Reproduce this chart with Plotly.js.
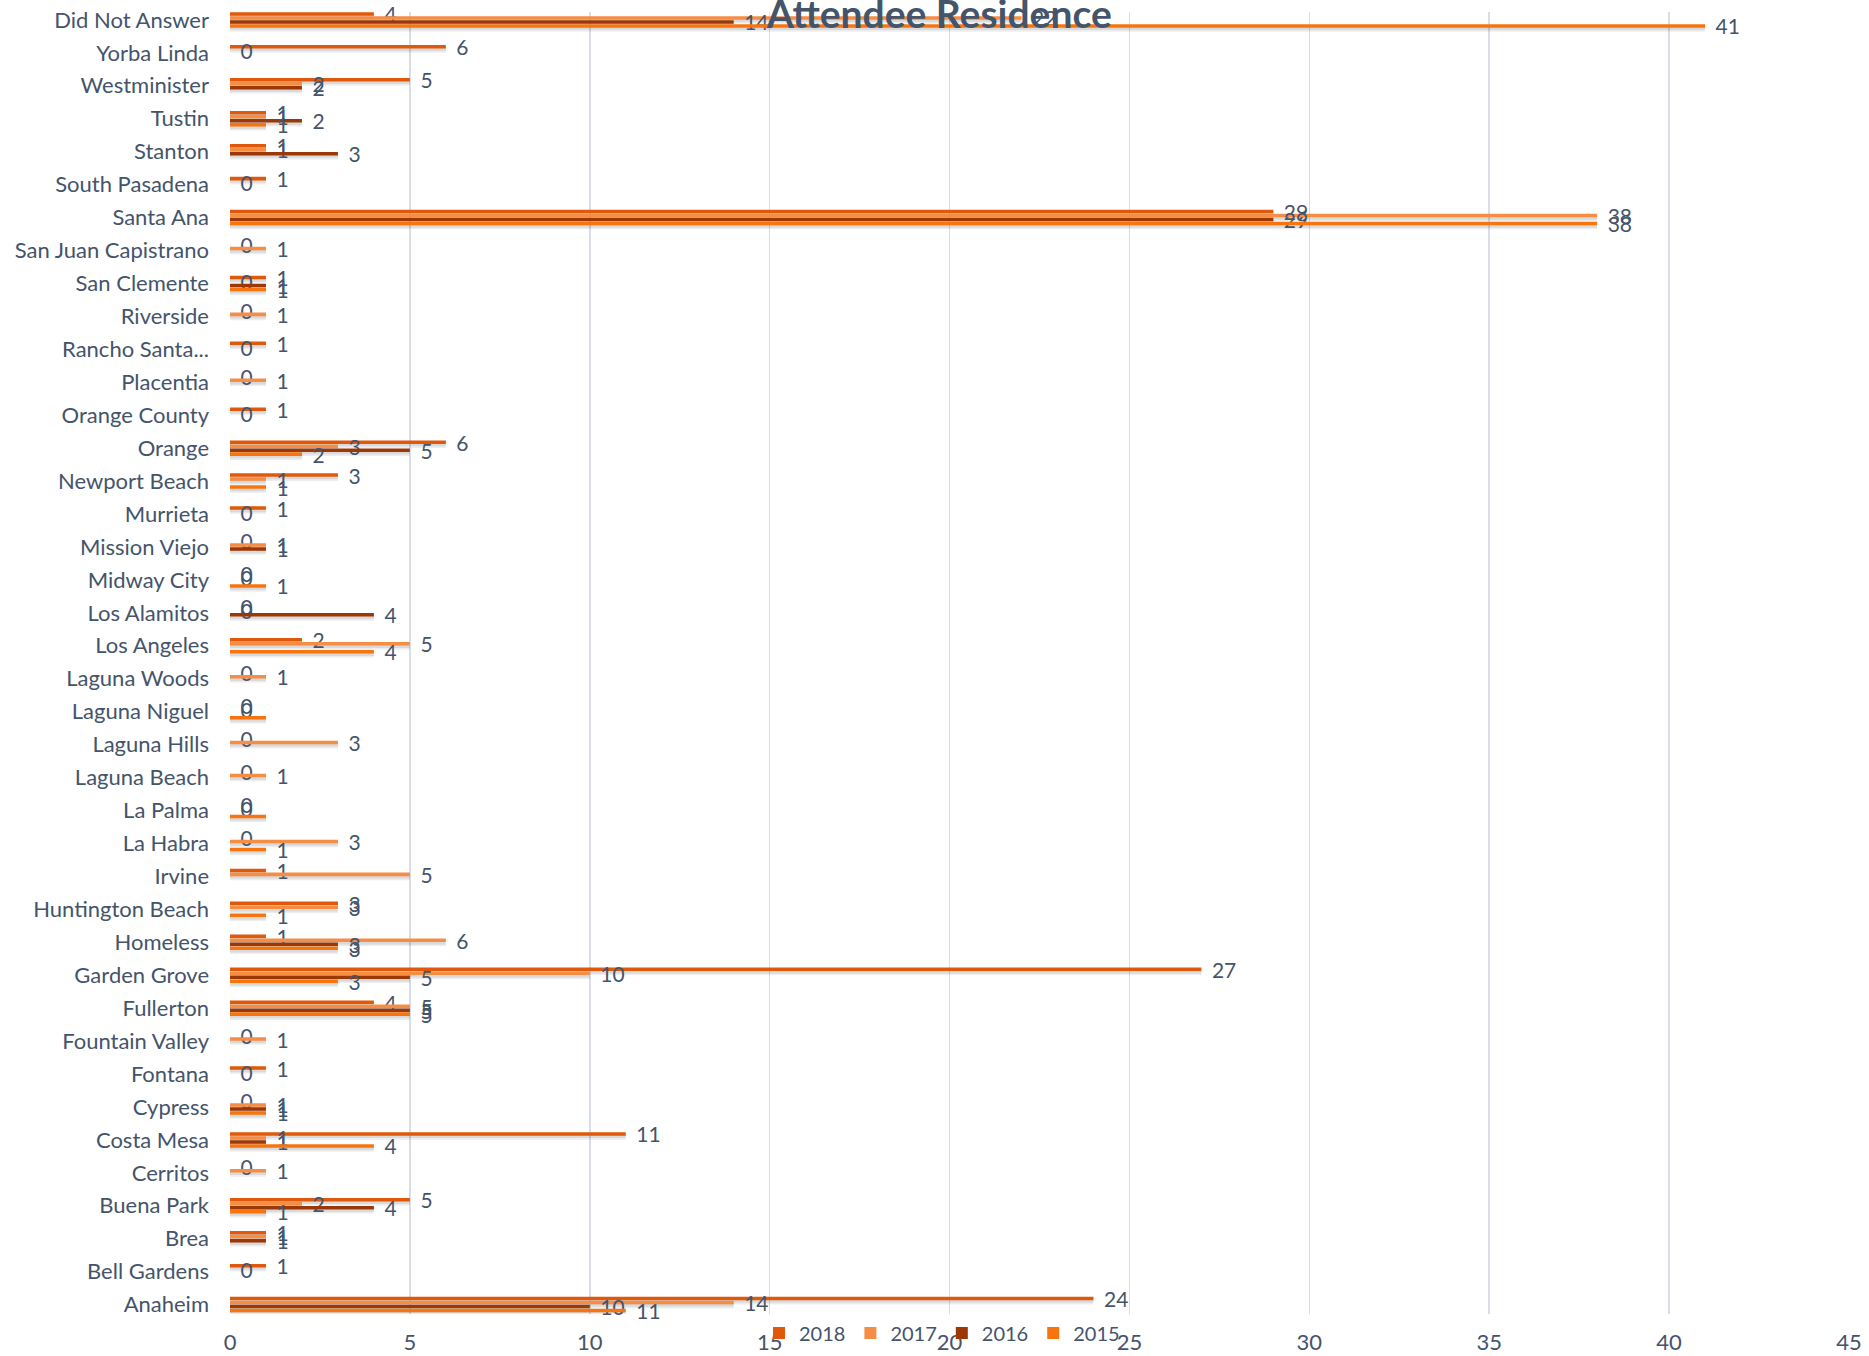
<!DOCTYPE html>
<html>
<head>
<meta charset="utf-8">
<script src="https://cdn.plot.ly/plotly-3.0.1.min.js"></script>
<style>
  html, body { margin: 0; padding: 0; background: #ffffff; }
  #chart { width: 1869px; height: 1356px; }
</style>
</head>
<body>
<div id="chart"></div>
<script>
// Categories, bottom to top
const categories = ['Anaheim','Bell Gardens','Brea','Buena Park','Cerritos','Costa Mesa','Cypress','Fontana','Fountain Valley','Fullerton','Garden Grove','Homeless','Huntington Beach','Irvine','La Habra','La Palma','Laguna Beach','Laguna Hills','Laguna Niguel','Laguna Woods','Los Angeles','Los Alamitos','Midway City','Mission Viejo','Murrieta','Newport Beach','Orange','Orange County','Placentia','Rancho Santa...','Riverside','San Clemente','San Juan Capistrano','Santa Ana','South Pasadena','Stanton','Tustin','Westminister','Yorba Linda','Did Not Answer'];

const v2018 = [24,1,1,5,0,11,0,1,0,4,27,1,3,1,0,0,0,0,0,0,2,0,0,0,1,3,6,1,0,1,0,1,0,29,1,1,1,5,6,4];
const v2017 = [14,0,1,2,1,1,1,0,1,5,10,6,3,5,3,0,1,3,0,1,5,0,0,1,0,1,3,0,1,0,1,0,1,38,0,1,1,2,0,22];
const v2016 = [10,null,1,4,null,1,1,null,null,5,5,3,null,null,null,null,null,null,null,null,null,4,null,1,null,null,5,null,null,null,null,1,null,29,null,3,2,2,null,14];
const v2015 = [11,null,null,1,null,4,1,null,null,5,3,3,1,null,1,1,null,null,1,null,4,null,1,null,null,1,2,null,null,null,null,1,null,38,null,null,1,null,null,41];

const seriesNames = ['2018','2017','2016','2015'];
const seriesValues = [v2018, v2017, v2016, v2015];
const seriesColors = ['#E0590B','#F68D45','#9C3806','#F7740F'];
// data labels not shown in the reference
const hiddenLabels = {'2015': ['Laguna Niguel','La Palma']};

const SLOT = 4/33;
const offsets = [SLOT, 0, -SLOT, -2*SLOT];
const labelColor = '#44546A';
const FONT = 'Lato, "Liberation Sans", sans-serif';

const traces = [];
// soft drop shadows under the bars
seriesValues.forEach((vals, k) => {
  traces.push({
    type: 'bar', orientation: 'h', y: categories, x: vals,
    offset: offsets[k] - SLOT*0.95, width: SLOT*1.4,
    marker: {color: 'rgba(0,0,0,0.07)', line: {width: 0}},
    showlegend: false, hoverinfo: 'skip'
  });
  traces.push({
    type: 'bar', orientation: 'h', y: categories, x: vals,
    offset: offsets[k] - SLOT*0.55, width: SLOT*0.9,
    marker: {color: 'rgba(0,0,0,0.08)', line: {width: 0}},
    showlegend: false, hoverinfo: 'skip'
  });
});
seriesValues.forEach((vals, k) => {
  const hide = hiddenLabels[seriesNames[k]] || [];
  const texts = vals.map((v, i) => (v === null || hide.includes(categories[i])) ? '' : '\u2002' + v);
  traces.push({
    type: 'bar', orientation: 'h', name: seriesNames[k],
    y: categories, x: vals,
    offset: offsets[k] + SLOT*0.06, width: SLOT*0.88,
    marker: {color: seriesColors[k], line: {width: 0}},
    text: texts, texttemplate: '%{text}',
    textposition: 'outside',
    constraintext: 'none',
    cliponaxis: false,
    textfont: {family: FONT, size: 21, color: labelColor}
  });
});

const layout = {
  width: 1869, height: 1356,
  paper_bgcolor: '#ffffff', plot_bgcolor: '#ffffff',
  barmode: 'overlay',
  margin: {l: 230, r: 20, t: 12, b: 41},
  title: {
    text: '<b>Attendee Residence</b>',
    font: {family: FONT, size: 39, color: labelColor},
    x: 0.5025, xref: 'container', xanchor: 'center',
    y: 1 - 14/1356, yref: 'container', yanchor: 'middle'
  },
  xaxis: {
    range: [0, 45], dtick: 5, tick0: 0,
    showgrid: true, gridcolor: '#D9DDE5', gridwidth: 1.5,
    zeroline: false, showline: false, ticks: '',
    tickfont: {family: FONT, size: 22, color: labelColor},
    ticklabelstandoff: 13
  },
  yaxis: {
    type: 'category', range: [-0.27, 39.24],
    showgrid: false, zeroline: false, showline: false, ticks: '',
    tickfont: {family: FONT, size: 22, color: labelColor},
    ticklabelstandoff: 20, automargin: false
  },
  legend: {
    orientation: 'h', xref: 'container', yref: 'container',
    x: 942/1869, xanchor: 'center', y: 1 - 1333/1356, yanchor: 'middle',
    bgcolor: 'rgba(0,0,0,0)', itemwidth: 30,
    font: {family: FONT, size: 20, color: labelColor}
  },
  showlegend: true
};

Plotly.newPlot('chart', traces, layout, {displayModeBar: false, staticPlot: true});
</script>
</body>
</html>
